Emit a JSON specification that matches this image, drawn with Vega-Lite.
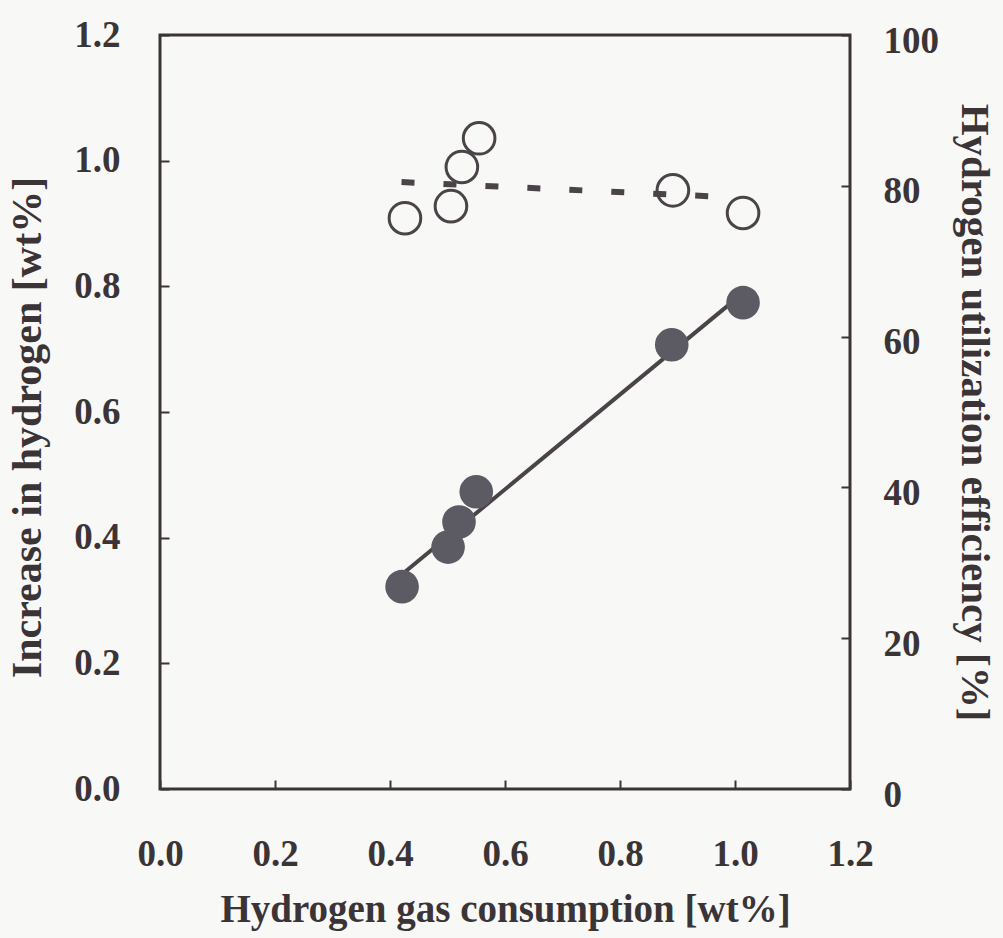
{
  "$schema": "https://vega.github.io/schema/vega-lite/v6.json",
  "autosize": {"type": "none"},
  "padding": {"left": 160, "top": 35, "right": 153, "bottom": 149},
  "width": 690,
  "height": 754,
  "background": "#f8f8f6",
  "config": {
    "view": {"stroke": "#3b3437", "strokeWidth": 3},
    "axis": {
      "grid": false,
      "domain": false,
      "labelFlush": false,
      "labelFont": "Liberation Serif",
      "labelFontWeight": "bold",
      "labelFontSize": 37,
      "labelColor": "#3b3437",
      "titleFont": "Liberation Serif",
      "titleFontWeight": "bold",
      "titleColor": "#3b3437",
      "tickColor": "#3b3437",
      "tickWidth": 2,
      "tickSize": -9
    }
  },
  "datasets": {
    "increase": [
      {"consumption": 0.421, "increase": 0.322},
      {"consumption": 0.501, "increase": 0.385},
      {"consumption": 0.520, "increase": 0.425},
      {"consumption": 0.550, "increase": 0.473},
      {"consumption": 0.890, "increase": 0.707},
      {"consumption": 1.014, "increase": 0.774}
    ],
    "fit": [
      {"consumption": 0.42, "increase": 0.341},
      {"consumption": 1.015, "increase": 0.790}
    ],
    "efficiency": [
      {"consumption": 0.426, "efficiency": 75.7},
      {"consumption": 0.506, "efficiency": 77.3},
      {"consumption": 0.525, "efficiency": 82.5},
      {"consumption": 0.555, "efficiency": 86.3},
      {"consumption": 0.892, "efficiency": 79.4},
      {"consumption": 1.014, "efficiency": 76.4}
    ],
    "average": [
      {"consumption": 0.42, "efficiency": 80.5},
      {"consumption": 0.96, "efficiency": 78.6}
    ]
  },
  "encoding": {
    "x": {
      "field": "consumption",
      "type": "quantitative",
      "scale": {"domain": [0, 1.2], "nice": false, "zero": false},
      "axis": {
        "title": "Hydrogen gas consumption [wt%]",
        "titleFontSize": 39,
        "values": [0, 0.2, 0.4, 0.6, 0.8, 1.0, 1.2],
        "format": ".1f",
        "labelPadding": 56,
        "titlePadding": 18
      }
    }
  },
  "layer": [
    {
      "layer": [
        {
          "data": {"name": "fit"},
          "mark": {"type": "line", "color": "#4a4448", "strokeWidth": 4},
          "encoding": {
            "y": {
              "field": "increase",
              "type": "quantitative",
              "scale": {"domain": [0, 1.2], "nice": false},
              "axis": {
                "orient": "left",
                "title": "Increase in hydrogen [wt%]",
                "titleFontSize": 42,
                "titleY": 392,
                "values": [0, 0.2, 0.4, 0.6, 0.8, 1.0, 1.2],
                "format": ".1f",
                "labelPadding": 49,
                "titlePadding": 24
              }
            }
          }
        },
        {
          "data": {"name": "increase"},
          "mark": {"type": "point", "shape": "circle", "filled": true, "size": 1130, "color": "#5c5a62", "opacity": 1},
          "encoding": {
            "y": {"field": "increase", "type": "quantitative"}
          }
        }
      ]
    },
    {
      "layer": [
        {
          "data": {"name": "average"},
          "mark": {"type": "line", "color": "#4a4448", "strokeWidth": 6, "strokeDash": [13, 29], "strokeCap": "butt"},
          "encoding": {
            "y": {
              "field": "efficiency",
              "type": "quantitative",
              "scale": {"domain": [0, 100], "nice": false},
              "axis": {
                "orient": "right",
                "title": "Hydrogen utilization efficiency [%]",
                "titleFontSize": 41,
                "values": [0, 20, 40, 60, 80, 100],
                "format": "d",
                "labelPadding": 42,
                "labelOffset": 6,
                "titlePadding": 14
              }
            }
          }
        },
        {
          "data": {"name": "efficiency"},
          "mark": {"type": "point", "shape": "circle", "filled": false, "size": 1000, "stroke": "#4a4448", "strokeWidth": 3, "opacity": 1},
          "encoding": {
            "y": {"field": "efficiency", "type": "quantitative"}
          }
        }
      ]
    }
  ],
  "resolve": {"scale": {"y": "independent"}}
}
